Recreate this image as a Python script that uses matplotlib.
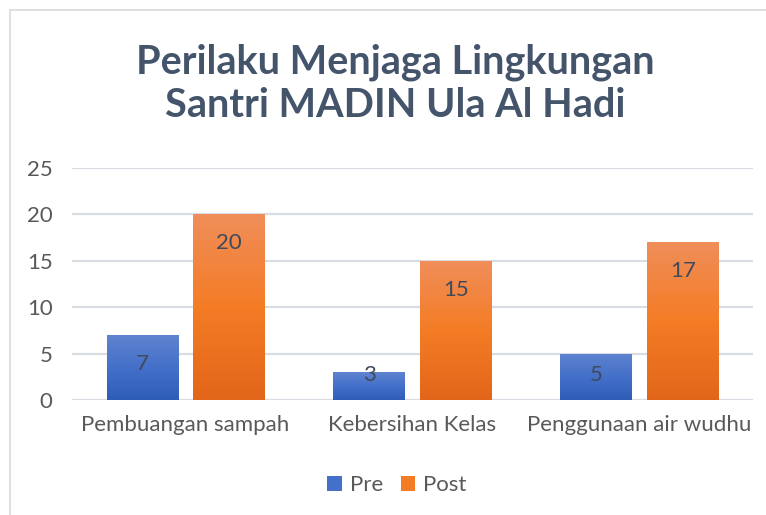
import numpy as np
import matplotlib.pyplot as plt
from matplotlib.colors import LinearSegmentedColormap
from matplotlib.patches import Rectangle

categories = ['Pembuangan sampah', 'Kebersihan Kelas', 'Penggunaan air wudhu']
pre = [7, 3, 5]
post = [20, 15, 17]
series = ['Pre', 'Post']

plt.rcParams['font.family'] = ['Lato', 'DejaVu Sans']

text_color = '#595959'
label_color = '#404A5A'
title_color = '#44546A'
grid_color = '#D9DCE3'

blue_cmap = LinearSegmentedColormap.from_list('b', ['#2E5DB8', '#4470C9', '#5F84CF'])
orange_cmap = LinearSegmentedColormap.from_list('o', ['#E2661A', '#F47C25', '#F08E5A'])

fig = plt.figure(figsize=(7.66, 5.15), dpi=100)
ax = fig.add_axes([0.094, 0.2233, 0.889, 0.4505])

x = np.arange(len(categories))
width = 0.313
gap = 0.07

grad = np.linspace(0, 1, 256).reshape(-1, 1)

for vals, off, cmap, name in [(pre, -(width + gap) / 2, blue_cmap, 'Pre'),
                              (post, (width + gap) / 2, orange_cmap, 'Post')]:
    bars = ax.bar(x + off, vals, width, color=cmap(0.5), label=name, zorder=2)
    for bar, v in zip(bars, vals):
        bx, bw, bh = bar.get_x(), bar.get_width(), bar.get_height()
        im = ax.imshow(grad, cmap=cmap, origin='lower', aspect='auto',
                       extent=[bx, bx + bw, 0, bh], zorder=3)
        im.set_clip_path(bar)
        ly = max(v - 3.1, 2.7)
        ax.text(bx + bw / 2, ly, str(v), ha='center', va='center',
                fontsize=16, color=label_color, zorder=4)

ax.set_xlim(-0.5, 2.5)
ax.set_ylim(0, 25)
ax.set_yticks(np.arange(0, 26, 5))
ax.set_xticks(x)
ax.set_xticklabels(categories)
ax.tick_params(axis='both', length=0, labelsize=16, colors=text_color)
ax.tick_params(axis='x', pad=11)
ax.tick_params(axis='y', pad=14)
ax.yaxis.grid(True, color=grid_color, linewidth=1.6, zorder=0)
ax.set_axisbelow(True)
for s in ax.spines.values():
    s.set_visible(False)

fig.text(0.516, 0.837, 'Perilaku Menjaga Lingkungan\nSantri MADIN Ula Al Hadi',
         ha='center', va='center', fontsize=28.5, fontweight='bold',
         color=title_color, linespacing=1.2)

leg = fig.legend(loc='center', bbox_to_anchor=(0.518, 0.058), ncol=2,
                 frameon=False, fontsize=16, handlelength=0.65, handleheight=0.65,
                 columnspacing=0.8, handletextpad=0.35)
for t in leg.get_texts():
    t.set_color(text_color)

fig.patches.append(Rectangle((10 / 766, -0.1), 1.2, 1 - 10 / 515 + 0.1,
                             transform=fig.transFigure, fill=False,
                             edgecolor='#D9D9D9', linewidth=1.2))

fig.savefig('out.png', dpi=100)
